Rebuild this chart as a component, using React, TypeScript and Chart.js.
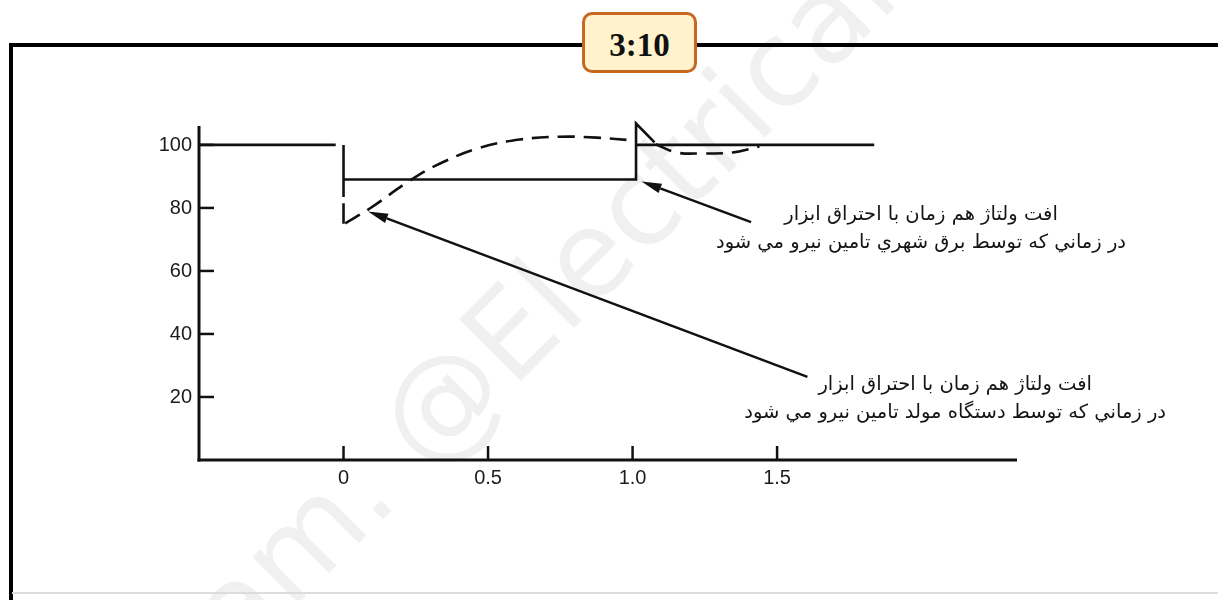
import React, { useEffect, useRef } from "react";
import { Chart, registerables } from "chart.js";

Chart.register(...registerables);

// ---- axis ticks ----
const xTickValues = [0, 0.5, 1.0, 1.5];
const xTickLabels = ["0", "0.5", "1.0", "1.5"];
const yTickValues = [20, 40, 60, 80, 100];
const yTickLabels = ["20", "40", "60", "80", "100"];

// ---- mains-supplied voltage (solid); null y = break in the line ----
const mainsX = [-0.5, -0.027, -0.027, 0, 0, 0, 0, 0, 0, 0, 1.012, 1.012, 1.076, 1.076, 1.012, 1.836];
const mainsY = [100, 100, null, 100, 83.5, null, 81.5, 75, null, 89, 89, 106.8, 100.8, null, 100, 100];

// ---- generator-supplied voltage (dashed) ----
const genX = [0.006, 0.092, 0.23, 0.334, 0.472, 0.61, 0.748, 0.876, 1.007, 1.007, 1.08, 1.152, 1.242, 1.346, 1.439];
const genY = [75.1, 79.9, 88.7, 94.1, 99.1, 101.7, 102.6, 102.3, 101.4, null, 100.2, 97.6, 97.3, 97.6, 99.5];

// ---- callout arrows ----
const arrowTipX = [1.031, 0.085];
const arrowTipY = [88.4, 78.9];
const arrowTailX = [1.41, 1.605];
const arrowTailY = [75.5, 26.4];

// ---- callout texts ----
const noteMainsLines = ["افت ولتاژ هم زمان با احتراق ابزار", "در زماني كه توسط برق شهري تامين نيرو مي شود"];
const noteGenLines = ["افت ولتاژ هم زمان با احتراق ابزار", "در زماني كه توسط دستگاه مولد تامين نيرو مي شود"];
const noteX = [1.998, 2.116];
const noteY = [77.7, 23.9];

const watermarkText = "am. @Electrical";
const badgeText = "3:10";

const INK = "#111111";

const watermarkPlugin = {
  id: "watermarkPlugin",
  beforeDatasetsDraw(chart: any) {
    const { ctx } = chart;
    ctx.save();
    ctx.font = "120px 'DejaVu Sans'";
    ctx.fillStyle = "rgba(0,0,0,0.058)";
    ctx.translate(448, 410);
    ctx.rotate((-45 * Math.PI) / 180);
    ctx.textBaseline = "middle";
    ctx.textAlign = "left";
    const pre = ctx.measureText("am. ").width;
    const at = ctx.measureText("@").width;
    ctx.fillText(watermarkText, -pre - at / 2, 0);
    ctx.restore();
  },
};

const axesPlugin = {
  id: "axesPlugin",
  beforeDatasetsDraw(chart: any) {
    const { ctx, chartArea: a } = chart;
    const xs = chart.scales.x;
    const ys = chart.scales.y;
    ctx.save();
    ctx.strokeStyle = INK;
    ctx.lineCap = "butt";
    ctx.lineWidth = 3;
    ctx.beginPath();
    ctx.moveTo(a.left, a.top);
    ctx.lineTo(a.left, a.bottom + 1.5);
    ctx.stroke();
    ctx.beginPath();
    ctx.moveTo(a.left - 1.5, a.bottom);
    ctx.lineTo(a.right, a.bottom);
    ctx.stroke();

    ctx.lineWidth = 2.5;
    ctx.fillStyle = "#1c1c1c";
    ctx.font = "20px 'Liberation Sans'";
    ctx.textAlign = "right";
    ctx.textBaseline = "middle";
    yTickValues.forEach((v, i) => {
      const py = ys.getPixelForValue(v);
      ctx.beginPath();
      ctx.moveTo(a.left, py);
      ctx.lineTo(a.left + 15, py);
      ctx.stroke();
      ctx.fillText(yTickLabels[i], a.left - 7, py + 1);
    });
    ctx.textAlign = "center";
    xTickValues.forEach((v, i) => {
      const px = xs.getPixelForValue(v);
      ctx.beginPath();
      ctx.moveTo(px, a.bottom);
      ctx.lineTo(px, a.bottom - 14);
      ctx.stroke();
      ctx.fillText(xTickLabels[i], px, a.bottom + 18);
    });
    ctx.restore();
  },
};

const calloutPlugin = {
  id: "calloutPlugin",
  afterDatasetsDraw(chart: any) {
    const { ctx } = chart;
    const xs = chart.scales.x;
    const ys = chart.scales.y;
    ctx.save();
    ctx.strokeStyle = INK;
    ctx.fillStyle = INK;
    ctx.lineWidth = 2.5;
    for (let i = 0; i < arrowTipX.length; i++) {
      const tx = xs.getPixelForValue(arrowTipX[i]);
      const ty = ys.getPixelForValue(arrowTipY[i]);
      const sx = xs.getPixelForValue(arrowTailX[i]);
      const sy = ys.getPixelForValue(arrowTailY[i]);
      const ang = Math.atan2(ty - sy, tx - sx);
      const len = 20;
      const hw = 5;
      const bx = tx - len * Math.cos(ang);
      const by = ty - len * Math.sin(ang);
      ctx.beginPath();
      ctx.moveTo(sx, sy);
      ctx.lineTo(bx, by);
      ctx.stroke();
      ctx.beginPath();
      ctx.moveTo(tx, ty);
      ctx.lineTo(bx + hw * Math.sin(ang), by - hw * Math.cos(ang));
      ctx.lineTo(bx - hw * Math.sin(ang), by + hw * Math.cos(ang));
      ctx.closePath();
      ctx.fill();
    }
    ctx.fillStyle = "#141414";
    ctx.font = "19.5px 'DejaVu Sans'";
    ctx.textAlign = "center";
    ctx.textBaseline = "middle";
    (ctx as any).direction = "rtl";
    [noteMainsLines, noteGenLines].forEach((lines, i) => {
      const px = xs.getPixelForValue(noteX[i]);
      const py = ys.getPixelForValue(noteY[i]);
      lines.forEach((t, j) => ctx.fillText(t, px, py + j * 28));
    });
    ctx.restore();
  },
};

export default function App() {
  const ref = useRef<HTMLCanvasElement>(null);
  useEffect(() => {
    const canvas = ref.current;
    if (!canvas) return;
    const chart = new Chart(canvas, {
      type: "line",
      data: {
        datasets: [
          {
            label: "mains",
            data: mainsX.map((x, i) => ({ x, y: mainsY[i] })) as any,
            borderColor: INK,
            borderWidth: 2.6,
            pointRadius: 0,
            tension: 0,
            spanGaps: false,
            clip: false as any,
          },
          {
            label: "generator",
            data: genX.map((x, i) => ({ x, y: genY[i] })) as any,
            borderColor: INK,
            borderWidth: 2.6,
            borderDash: [17, 9],
            pointRadius: 0,
            tension: 0.4,
            spanGaps: false,
            clip: false as any,
          },
        ],
      },
      options: {
        responsive: false,
        animation: false,
        devicePixelRatio: 1,
        events: [],
        layout: { padding: { left: 199, right: 201, top: 126, bottom: 140 } },
        plugins: { legend: { display: false }, tooltip: { enabled: false } },
        scales: {
          x: { type: "linear", display: false, min: -0.5, max: 2.33 },
          y: { type: "linear", display: false, min: 0, max: 106 },
        },
      },
      plugins: [watermarkPlugin, axesPlugin, calloutPlugin],
    });
    return () => chart.destroy();
  }, []);

  return (
    <div
      style={{
        position: "fixed",
        left: 0,
        top: 0,
        width: 1218,
        height: 600,
        overflow: "hidden",
        background: "#ffffff",
      }}
    >
      <canvas ref={ref} width={1218} height={600} style={{ position: "absolute", left: 0, top: 0 }} />
      <div style={{ position: "absolute", left: 9, top: 43, width: 1209, height: 3.5, background: "#000" }} />
      <div style={{ position: "absolute", left: 9, top: 43, width: 3.5, height: 557, background: "#000" }} />
      <div style={{ position: "absolute", left: 12, top: 592, width: 1206, height: 2, background: "#dcdcdc" }} />
      <div
        style={{
          position: "absolute",
          left: 582,
          top: 12,
          width: 115,
          height: 61,
          boxSizing: "border-box",
          border: "3px solid #C8671F",
          borderRadius: 10,
          background: "#FFF2CC",
          display: "flex",
          alignItems: "center",
          justifyContent: "center",
          paddingTop: 5,
          fontFamily: "'Liberation Serif', serif",
          fontWeight: "bold",
          fontSize: 33,
          color: "#111",
          lineHeight: 1,
        }}
      >
        {badgeText}
      </div>
    </div>
  );
}
